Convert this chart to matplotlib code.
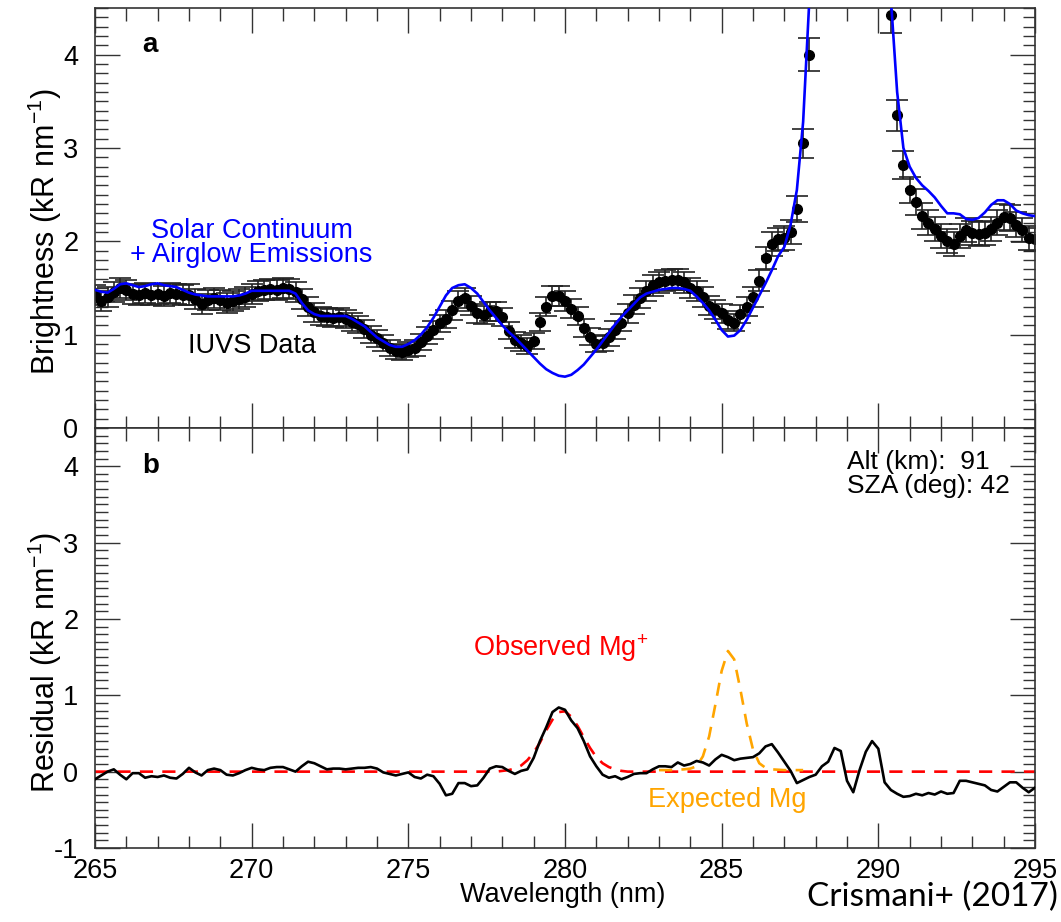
import numpy as np
import matplotlib
matplotlib.use('Agg')
import matplotlib.pyplot as plt
from matplotlib.ticker import MultipleLocator

plt.rcParams['font.family'] = ['Liberation Sans', 'DejaVu Sans']
plt.rcParams['mathtext.fontset'] = 'custom'
plt.rcParams['mathtext.rm'] = 'Liberation Sans'
plt.rcParams['mathtext.it'] = 'Liberation Sans:italic'
plt.rcParams['mathtext.bf'] = 'Liberation Sans:bold'
plt.rcParams['axes.unicode_minus'] = False

# IUVS sampling grid (0.2 nm), 151 samples
wl = np.round(np.arange(265.0, 295.01, 0.2), 1)

# panel a: measured brightness (kR/nm), one row = 2 nm
iuvs = [
    1.42, 1.36, 1.40, 1.46, 1.50, 1.48, 1.44, 1.42, 1.45, 1.43,
    1.44, 1.41, 1.45, 1.44, 1.42, 1.43, 1.38, 1.33, 1.37, 1.39,
    1.37, 1.34, 1.36, 1.38, 1.40, 1.44, 1.47, 1.48, 1.49, 1.48,
    1.50, 1.49, 1.46, 1.38, 1.30, 1.24, 1.20, 1.19, 1.18, 1.19,
    1.17, 1.14, 1.11, 1.06, 1.00, 0.96, 0.91, 0.86, 0.82, 0.81,
    0.84, 0.86, 0.92, 0.99, 1.05, 1.12, 1.17, 1.26, 1.36, 1.39,
    1.31, 1.23, 1.21, 1.25, 1.25, 1.19, 1.04, 0.94, 0.91, 0.88,
    0.93, 1.14, 1.30, 1.41, 1.41, 1.36, 1.28, 1.20, 1.07, 0.98,
    0.90, 0.91, 0.97, 1.05, 1.13, 1.23, 1.32, 1.39, 1.47, 1.53,
    1.56, 1.58, 1.59, 1.59, 1.56, 1.50, 1.47, 1.40, 1.31, 1.27,
    1.23, 1.16, 1.13, 1.22, 1.30, 1.40, 1.58, 1.82, 1.97, 2.02,
    2.04, 2.10, 2.35, 3.05, 4.00, 6.0, 8.5, 11.0, 14.0, 16.0,
    17.0, 16.0, 13.0, 10.0, 7.5, 5.8, 4.9, 4.42, 3.35, 2.82,
    2.55, 2.42, 2.27, 2.20, 2.13, 2.06, 2.00, 1.97, 2.06, 2.12,
    2.09, 2.08, 2.09, 2.13, 2.20, 2.26, 2.25, 2.18, 2.12, 2.04,
    2.02,
]

# panel a: solar continuum + airglow model
model = [
    1.48, 1.46, 1.45, 1.49, 1.54, 1.55, 1.53, 1.51, 1.52, 1.54,
    1.55, 1.53, 1.52, 1.51, 1.48, 1.45, 1.43, 1.42, 1.41, 1.41,
    1.41, 1.41, 1.41, 1.42, 1.44, 1.47, 1.47, 1.47, 1.47, 1.47,
    1.47, 1.47, 1.44, 1.34, 1.26, 1.22, 1.20, 1.20, 1.20, 1.20,
    1.20, 1.17, 1.13, 1.09, 1.03, 0.97, 0.93, 0.89, 0.87, 0.87,
    0.90, 0.94, 1.00, 1.08, 1.18, 1.30, 1.42, 1.50, 1.53, 1.54,
    1.50, 1.44, 1.35, 1.26, 1.18, 1.10, 1.03, 0.97, 0.90, 0.83,
    0.76, 0.69, 0.63, 0.59, 0.56, 0.55, 0.57, 0.62, 0.68, 0.76,
    0.84, 0.93, 1.02, 1.11, 1.19, 1.26, 1.33, 1.40, 1.44, 1.46,
    1.48, 1.49, 1.50, 1.50, 1.49, 1.47, 1.41, 1.34, 1.26, 1.16,
    1.05, 0.98, 0.99, 1.05, 1.16, 1.29, 1.42, 1.55, 1.69, 1.84,
    1.94, 2.18, 2.55, 3.28, 4.60, 6.5, 9.0, 12.0, 15.0, 17.0,
    18.0, 17.0, 15.0, 12.0, 9.0, 7.0, 5.5, 4.6, 3.6, 3.0,
    2.80, 2.68, 2.60, 2.54, 2.47, 2.38, 2.30, 2.30, 2.29, 2.24,
    2.23, 2.25, 2.31, 2.39, 2.44, 2.44, 2.40, 2.33, 2.30, 2.28,
    2.27,
]

# panel b: residual (data - model)
resid = [
    -0.10, -0.05, 0.00, 0.03, -0.04, -0.10, -0.02, -0.02, -0.08, -0.06,
    -0.07, -0.05, -0.08, -0.09, -0.03, 0.05, -0.01, -0.05, 0.02, 0.04,
    0.02, -0.04, -0.05, -0.02, 0.02, 0.05, 0.03, 0.02, 0.05, 0.06,
    0.06, 0.03, 0.00, 0.07, 0.13, 0.11, 0.07, 0.03, 0.04, 0.04,
    0.03, 0.04, 0.05, 0.05, 0.06, 0.04, -0.01, -0.03, -0.05, -0.03,
    -0.01, -0.07, -0.09, -0.04, -0.06, -0.16, -0.31, -0.29, -0.15, -0.15,
    -0.19, -0.18, -0.08, 0.04, 0.07, 0.06, 0.01, -0.03, 0.01, 0.03,
    0.18, 0.40, 0.58, 0.78, 0.84, 0.81, 0.67, 0.57, 0.40, 0.20,
    0.07, -0.04, -0.08, -0.06, -0.10, -0.07, -0.03, -0.02, -0.02, 0.03,
    0.07, 0.07, 0.06, 0.12, 0.08, 0.10, 0.14, 0.12, 0.08, 0.16,
    0.22, 0.19, 0.15, 0.17, 0.18, 0.19, 0.24, 0.33, 0.36, 0.25,
    0.13, 0.01, -0.15, -0.11, -0.07, -0.04, 0.07, 0.13, 0.31, 0.27,
    -0.12, -0.27, 0.02, 0.26, 0.40, 0.30, -0.14, -0.24, -0.29, -0.33,
    -0.32, -0.29, -0.31, -0.28, -0.30, -0.26, -0.29, -0.28, -0.12, -0.12,
    -0.14, -0.16, -0.18, -0.24, -0.26, -0.20, -0.14, -0.14, -0.21, -0.27,
    -0.21,
]

# observed Mg+ fit
mgp_wl = [265.0, 277.8, 278.0, 278.2, 278.4, 278.6, 278.8, 279.0, 279.2, 279.4,
          279.6, 279.8, 280.0, 280.2, 280.4, 280.6, 280.8, 281.0, 281.2, 281.4,
          281.6, 281.8, 282.0, 295.0]
mgp = [0.0, 0.0, 0.01, 0.02, 0.04, 0.08, 0.15, 0.25, 0.38, 0.54,
       0.68, 0.78, 0.79, 0.72, 0.60, 0.45, 0.31, 0.19, 0.11, 0.06,
       0.03, 0.01, 0.0, 0.0]

# expected neutral Mg
mg_wl = [283.0, 283.4, 283.8, 284.0, 284.2, 284.4, 284.6, 284.8, 285.0, 285.2,
         285.4, 285.6, 285.8, 286.0, 286.2, 286.4, 286.6, 287.0, 287.6]
mg = [0.02, 0.02, 0.03, 0.04, 0.07, 0.20, 0.46, 0.88, 1.32, 1.58,
      1.47, 1.07, 0.63, 0.29, 0.11, 0.05, 0.03, 0.02, 0.02]

iuvs = np.array(iuvs)
err = 0.09 * np.sqrt(iuvs)

W, H = 1061, 922
fig = plt.figure(figsize=(W / 100, H / 100), dpi=100)
ax1 = fig.add_axes([95 / W, 1 - 428 / H, 940 / W, 420 / H])
ax2 = fig.add_axes([95 / W, 1 - 848 / H, 940 / W, 420 / H])


def style(ax):
    ax.set_xlim(265, 295)
    ax.xaxis.set_major_locator(MultipleLocator(5))
    ax.xaxis.set_minor_locator(MultipleLocator(1))
    ax.yaxis.set_major_locator(MultipleLocator(1))
    ax.yaxis.set_minor_locator(MultipleLocator(0.1))
    ax.tick_params(which='both', direction='in', top=True, right=True,
                   width=1.0, color='#333333')
    ax.tick_params(which='major', length=18, labelsize=19.5, pad=7)
    ax.tick_params(axis='y', which='major', pad=12)
    ax.tick_params(which='minor', length=9)
    for s in ax.spines.values():
        s.set_linewidth(1.2)
        s.set_color('#333333')


# top panel
ax1.errorbar(wl, iuvs, yerr=err, fmt='o', color='black', ecolor='#222222',
             ms=7, elinewidth=1.2, capsize=8, capthick=1.2, zorder=2)
ax1.plot(wl, model, color='blue', lw=1.9, zorder=3)
style(ax1)
ax1.set_ylim(0, 4.5)
ax1.tick_params(labelbottom=False)
ax1.text(266.5, 4.1, 'a', fontsize=20, fontweight='bold', va='center')
ax1.text(270.0, 2.11, 'Solar Continuum', color='blue',
         fontsize=19.5, ha='center', va='center')
ax1.text(270.0, 1.85, '+ Airglow Emissions', color='blue',
         fontsize=19.5, ha='center', va='center')
ax1.text(270.0, 0.88, 'IUVS Data', color='black', fontsize=19.5,
         ha='center', va='center')

# bottom panel
ax2.plot(mgp_wl, mgp, color='red', lw=1.9, dashes=(5, 3.5), zorder=2)
ax2.plot(mg_wl, mg, color='orange', lw=1.9, dashes=(5, 3.5), zorder=2)
ax2.plot(wl, resid, color='black', lw=1.9, zorder=3)
style(ax2)
ax2.set_ylim(-1, 4.5)
ax2.text(266.5, 4.0, 'b', fontsize=20, fontweight='bold', va='center')
ax2.text(289.0, 4.05, 'Alt (km):  91', fontsize=19, va='center')
ax2.text(289.0, 3.74, 'SZA (deg): 42', fontsize=19, va='center')
ax2.text(279.85, 1.62, 'Observed Mg$^{+}$', color='red', fontsize=19.5,
         ha='center', va='center')
ax2.text(285.17, -0.37, 'Expected Mg', color='orange', fontsize=19.5,
         ha='center', va='center')

fig.text(563 / W, 1 - 895 / H, 'Wavelength (nm)', fontsize=19.5,
         ha='center', va='center')
fig.text(45 / W, 1 - 232 / H, 'Brightness (kR nm$^{-1}$)', fontsize=22,
         rotation=90, ha='center', va='center')
fig.text(45 / W, 1 - 662 / H, 'Residual (kR nm$^{-1}$)', fontsize=22,
         rotation=90, ha='center', va='center')
fig.text(1058 / W, 1 - 897 / H, 'Crismani+ (2017)', fontsize=24,
         family=['Lato', 'DejaVu Sans'], ha='right', va='center')

fig.savefig('out.png', dpi=100)
